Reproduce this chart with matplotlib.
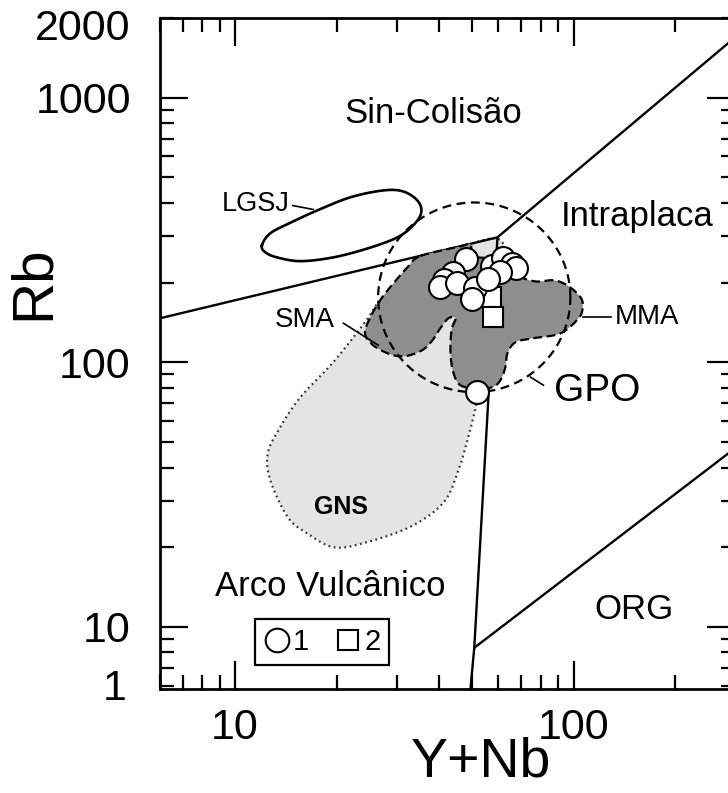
import matplotlib
matplotlib.use('Agg')
import matplotlib.pyplot as plt
import numpy as np
from matplotlib.lines import Line2D
from matplotlib.ticker import FixedLocator, LogLocator, NullFormatter, FixedFormatter

plt.rcParams['font.family'] = ['Liberation Sans', 'DejaVu Sans']

# ---------------- data (Y+Nb, Rb) ----------------
group1_ynb = [48.2, 43.9, 41.3, 40.4, 45.4, 51.3, 50.2, 57.6, 62.1, 66.0, 67.4, 60.8, 56.0, 52.0]
group1_rb = [245, 217, 204, 192, 199, 190, 174, 232, 247, 236, 228, 219, 207, 77]
group2_ynb = [57.2, 58.0]
group2_rb = [177, 148]

# discrimination boundaries
syncol_vag_x = [6.0, 59.6]
syncol_vag_y = [146.6, 296.5]
syncol_wpg_x = [59.6, 351]
syncol_wpg_y = [296.5, 2000]
vag_wpg_x = [59.6, 50.9, 49.6]
vag_wpg_y = [296.5, 8.33, 5.82]
wpg_org_x = [50.9, 300]
wpg_org_y = [8.33, 47.3]

# LGSJ field outline
lgsj_x = [12.0, 12.7, 14.6, 17.5, 21.9, 27.4, 31.4, 34.6, 35.5, 33.6, 30.1, 24.6, 19.5, 15.6, 13.3, 12.3]
lgsj_y = [276, 307, 337, 375, 420, 446, 442, 408, 368, 329, 296, 269, 249, 241, 249, 260]

# SMA + MMA field outline (dark grey)
sma_mma_x = [35.3, 46.3, 49.6, 50.9, 62.1, 66.0, 68.8, 77.2, 87.3, 96.0, 104.9, 106.4, 103.5,
             91.5, 76.1, 67.4, 63.8, 62.9, 60.8, 57.6, 51.3, 46.3, 44.2, 43.3, 43.6, 44.8,
             42.7, 40.4, 38.3, 35.7, 31.8, 28.7, 25.6, 24.2, 25.1, 26.8, 28.7, 32.3]
sma_mma_y = [252, 274, 279, 251, 247, 238.5, 213, 202, 204, 195, 176, 161, 146.6,
             128.6, 123.2, 119, 108, 95.7, 85.5, 80.5, 79.8, 81.9, 90.9, 108.1, 132, 146.6,
             146.6, 134.4, 121, 111, 105.4, 107.2, 115.9, 128.6, 147.9, 171, 191.9, 228.3]

# GNS field outline (light grey, dotted)
gns_x = [26.8, 24.2, 19.5, 15.6, 13.6, 12.5, 12.7, 14.3, 16.3, 19.5, 23.9, 33.0, 41.2, 45.4,
         48.6, 52.0, 53.8, 56.8, 61.7, 62.9, 59.6, 49.6, 37.8, 30.8]
gns_y = [171, 141.6, 100, 73.8, 56.9, 45.4, 35.9, 26.0, 22.6, 20.0, 20.7, 23.9, 29.4, 38.1,
         50.8, 71.9, 93.3, 144, 222, 260, 293, 279, 232, 195]

# GPO circle: centre and half-widths (in decades)
gpo_center = (50.9, 175.9)
gpo_halfwidth_dex = (0.284, 0.3585)

field_labels = ['Sin-Colisão', 'Intraplaca', 'Arco Vulcânico', 'ORG']
field_label_x = [38.5, 154.6, 19.1, 150.5]
field_label_y = [870, 356, 14.2, 11.6]

x_ticks = [10, 100]
y_ticks = [10, 100, 1000]


def smooth_closed(xs, ys, n=12):
    """Closed Catmull-Rom curve through the points, computed in log space."""
    lx = np.log10(xs)
    ly = np.log10(ys)
    m = len(lx)
    outx, outy = [], []
    for i in range(m):
        p0 = np.array([lx[i - 1], ly[i - 1]])
        p1 = np.array([lx[i], ly[i]])
        p2 = np.array([lx[(i + 1) % m], ly[(i + 1) % m]])
        p3 = np.array([lx[(i + 2) % m], ly[(i + 2) % m]])
        for t in np.linspace(0, 1, n, endpoint=False):
            t2, t3 = t * t, t * t * t
            pt = 0.5 * ((2 * p1) + (-p0 + p2) * t + (2 * p0 - 5 * p1 + 4 * p2 - p3) * t2
                        + (-p0 + 3 * p1 - 3 * p2 + p3) * t3)
            outx.append(pt[0])
            outy.append(pt[1])
    outx.append(outx[0])
    outy.append(outy[0])
    return 10 ** np.array(outx), 10 ** np.array(outy)


fig = plt.figure(figsize=(7.28, 7.93), dpi=100)
ax = fig.add_axes([160 / 728, 1 - 689 / 793, 575 / 728, 671 / 793])
ax.set_xscale('log')
ax.set_yscale('log')
ax.set_xlim(6.0, 300)
ax.set_ylim(5.82, 2000)

# GNS field
gx, gy = smooth_closed(gns_x, gns_y)
ax.fill(gx, gy, color='#e4e4e4', zorder=1, lw=0)
ax.plot(gx, gy, color='#333333', lw=1.6, ls=(0, (0.8, 1.6)), zorder=1.5)

# boundary lines
for xs, ys in [(syncol_vag_x, syncol_vag_y), (syncol_wpg_x, syncol_wpg_y),
               (vag_wpg_x, vag_wpg_y), (wpg_org_x, wpg_org_y)]:
    ax.plot(xs, ys, color='black', lw=1.7, zorder=1.8, solid_capstyle='butt')

# SMA + MMA field
sx, sy = smooth_closed(sma_mma_x, sma_mma_y, n=8)
ax.fill(sx, sy, color='#8e8e8e', zorder=2, lw=0)
ax.plot(sx, sy, color='black', lw=1.6, ls=(0, (4, 2)), zorder=2.2)

# GPO circle
t = np.linspace(0, 2 * np.pi, 300)
cx = 10 ** (np.log10(gpo_center[0]) + gpo_halfwidth_dex[0] * np.cos(t))
cy = 10 ** (np.log10(gpo_center[1]) + gpo_halfwidth_dex[1] * np.sin(t))
ax.plot(cx, cy, color='black', lw=1.6, ls=(0, (4, 2.5)), zorder=2.5)

# LGSJ field
lx, ly = smooth_closed(lgsj_x, lgsj_y)
ax.plot(lx, ly, color='black', lw=1.9, zorder=2.5)

# samples
ax.plot(group2_ynb, group2_rb, ls='none', marker='s', ms=15, mfc='white', mec='black',
        mew=1.5, zorder=4)
ax.plot(group1_ynb, group1_rb, ls='none', marker='o', ms=16.5, mfc='white', mec='black',
        mew=1.5, zorder=5)

# field labels
for lab, xx, yy in zip(field_labels, field_label_x, field_label_y):
    ax.text(xx, yy, lab, fontsize=25, ha='center', va='center', zorder=6)

# labelled fields with leaders
ax.text(11.5, 398, 'LGSJ', fontsize=19.5, ha='center', va='center', zorder=6)
ax.plot([14.8, 17.0], [391, 378], color='black', lw=1.2, zorder=6)
ax.text(16.1, 144, 'SMA', fontsize=20, ha='center', va='center', zorder=6)
ax.plot([20.9, 26.5], [140.4, 115.9], color='black', lw=1.2, zorder=6)
ax.text(164.4, 148, 'MMA', fontsize=20, ha='center', va='center', zorder=6)
ax.plot([106.4, 128.7], [147.9, 147.9], color='black', lw=1.2, zorder=6)
ax.text(117.8, 77.8, 'GPO', fontsize=28, ha='center', va='center', zorder=6)
ax.plot([74.6, 81.5], [87.8, 81.9], color='black', lw=1.2, zorder=6)
ax.text(20.6, 28.4, 'GNS', fontsize=18, fontweight='bold', ha='center', va='center', zorder=6)

# ticks
ax.xaxis.set_major_locator(FixedLocator(x_ticks))
ax.xaxis.set_major_formatter(FixedFormatter([str(v) for v in x_ticks]))
ax.yaxis.set_major_locator(FixedLocator(y_ticks))
ax.yaxis.set_major_formatter(FixedFormatter([str(v) for v in y_ticks]))
for axis in (ax.xaxis, ax.yaxis):
    axis.set_minor_locator(LogLocator(base=10, subs=np.arange(2, 10), numticks=20))
    axis.set_minor_formatter(NullFormatter())
ax.tick_params(which='both', direction='in', top=True, right=True, width=1.6)
ax.tick_params(which='major', length=20, labelsize=31)
ax.tick_params(which='minor', length=10)
ax.tick_params(axis='y', which='major', pad=21)
ax.tick_params(axis='x', which='major', pad=14)
for sp in ax.spines.values():
    sp.set_linewidth(2.0)

# extra axis-end labels as printed on the original
ax.annotate('2000', xy=(0, 2000), xycoords=ax.get_yaxis_transform(), xytext=(-21, -8),
            textcoords='offset points', ha='right', va='center', fontsize=31)
ax.annotate('1', xy=(0, 5.82), xycoords=ax.get_yaxis_transform(), xytext=(-24, 0),
            textcoords='offset points', ha='right', va='center', fontsize=31)

ax.set_xlabel('Y+Nb', fontsize=40)
ax.set_ylabel('Rb', fontsize=42)
ax.xaxis.set_label_coords(0.558, -0.131)
ax.xaxis.label.set_va('baseline')
ax.yaxis.set_label_coords(-0.219, 0.605)
ax.yaxis.label.set_va('center')

# legend
handles = [Line2D([], [], ls='none', marker='o', ms=17, mfc='white', mec='black', mew=1.5),
           Line2D([], [], ls='none', marker='s', ms=15, mfc='white', mec='black', mew=1.5)]
leg = ax.legend(handles, ['1', '2'], ncol=2, loc='lower left', bbox_to_anchor=(0.165, 0.036),
                borderaxespad=0, fontsize=21, frameon=True, fancybox=False, framealpha=1,
                edgecolor='black', handlelength=0.9, handletextpad=0.1, columnspacing=0.9,
                borderpad=0.3)
leg.get_frame().set_linewidth(1.6)

fig.savefig('out.png', dpi=100)
